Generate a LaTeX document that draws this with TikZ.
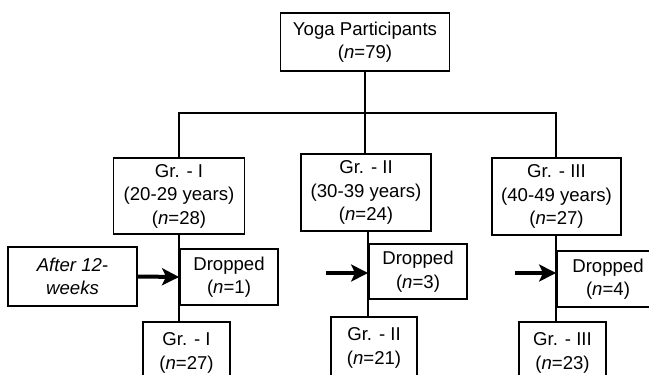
\documentclass[tikz,border=0pt]{standalone}
\usepackage{fontspec}
\setmainfont{Liberation Sans}
\usetikzlibrary{arrows.meta}
\tikzset{
  box/.style={draw, rectangle, line width=1.8pt, inner sep=2pt, align=center, font=\fontsize{18.6pt}{23.5pt}\selectfont},
  link/.style={line width=1.8pt},
  push/.style={line width=4pt, -{Stealth[length=17pt, width=17pt, inset=4pt]}}
}
\begin{document}
\begin{tikzpicture}[x=1pt, y=-1pt]%
\useasboundingbox (0,0) rectangle (649,375);%
\clip (0,0) rectangle (649,375);%
\node[box, minimum width=169pt, minimum height=58pt] (top) at (365,42) {Yoga Participants\\(\textit{n}=79)};%
\node[box, minimum width=131pt, minimum height=76pt] (g1) at (179,196) {Gr. - I\\(20-29 years)\\(\textit{n}=28)};%
\node[box, minimum width=130pt, minimum height=77pt] (g2) at (366,192.5) {Gr. - II\\(30-39 years)\\(\textit{n}=24)};%
\node[box, minimum width=129pt, minimum height=77pt] (g3) at (556.5,196.5) {Gr. - III\\(40-49 years)\\(\textit{n}=27)};%
\node[box, minimum width=129pt, minimum height=59pt] (after) at (72.5,276.5) {\textit{After 12-}\\\textit{weeks}};%
\node[box, minimum width=98pt, minimum height=56pt] (d1) at (229,277) {Dropped\\(\textit{n}=1)};%
\node[box, minimum width=98pt, minimum height=55pt] (d2) at (418,271.5) {Dropped\\(\textit{n}=3)};%
\node[box, minimum width=102pt, minimum height=56pt] (d3) at (608,279) {Dropped\\(\textit{n}=4)};%
\node[box, minimum width=87pt, minimum height=62pt] (b1) at (186.5,353) {Gr. - I\\(\textit{n}=27)};%
\node[box, minimum width=86pt, minimum height=62pt] (b2) at (374,348) {Gr. - II\\(\textit{n}=21)};%
\node[box, minimum width=87pt, minimum height=62pt] (b3) at (562.5,353) {Gr. - III\\(\textit{n}=23)};%
\coordinate (jn) at (365,113);%
\coordinate (t2) at (326,273);%
\coordinate (t3) at (515,273);%
% tree from the top box to the three groups
\draw[link] (top.south) -- (top.south |- g2.north);%
\draw[link] (d1.west |- g1.north) |- (jn) -| (d3.west |- g3.north);%
% stems down to the final groups
\draw[link] (d1.west |- g1.south) -- (d1.west |- b1.north);%
\draw[link] (d2.west |- g2.south) -- (d2.west |- b2.north);%
\draw[link] (d3.west |- g3.south) -- (d3.west |- b3.north);%
% drop-out arrows
\draw[push] (after.east) -- (d1.west);%
\draw[push] (t2) -- (t2 -| d2.west);%
\draw[push] (t3) -- (t3 -| d3.west);%
\end{tikzpicture}
\end{document}
